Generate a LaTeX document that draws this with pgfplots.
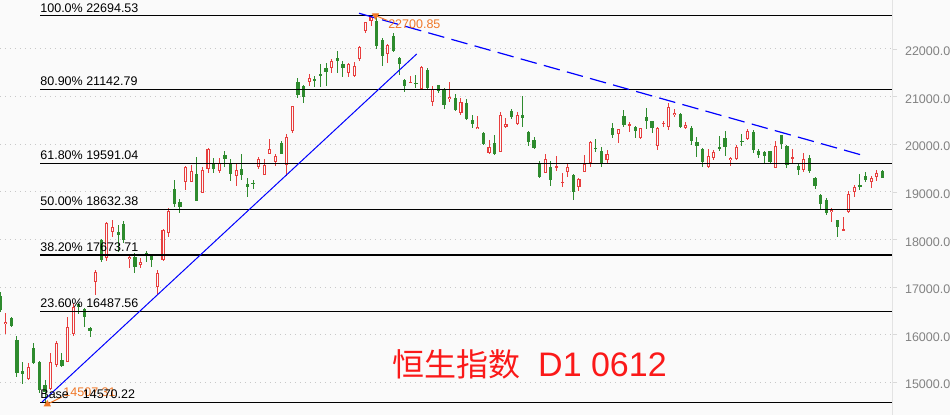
\documentclass[border=0pt]{standalone}
\usepackage{fontspec}
\setmainfont{Liberation Sans}
\newfontfamily\cjk{Noto Sans CJK SC}
\usepackage{pgfplots}
\usepackage{pgfplotstable}
\pgfplotsset{compat=1.18}

\definecolor{bgcol}{RGB}{250,250,250}
\definecolor{upcol}{RGB}{232,62,62}
\definecolor{dncol}{RGB}{46,139,46}
\definecolor{gridcol}{RGB}{200,200,200}
\definecolor{tickcol}{RGB}{130,130,130}
\definecolor{notecol}{RGB}{240,120,40}
\definecolor{titlecol}{RGB}{250,25,25}
\newcommand\lbl{\fontsize{6.25}{7}\selectfont}

% daily candles, x = bar index; rising bars (red, hollow)
\pgfplotstableread{
x o h l c
1 16224 16455 16014 16272
5 15069 15405 15048 15321
9 14853 15621 14838 15432
10 15363 15867 15321 15825
12 15432 16371 15426 16161
13 16014 16665 15972 16587
17 17112 17358 16833 17322
19 17610 18372 17547 18345
20 18162 18408 18051 18261
23 17589 17673 17400 17631
25 17463 17610 17400 17532
28 16995 17358 16833 17301
29 17568 18213 17547 18198
30 18129 18660 18057 18603
33 19212 19542 19038 19527
34 19206 19563 19206 19437
36 18969 19521 18969 19458
37 19473 19920 19401 19899
39 19443 19710 19395 19599
42 19338 19611 19128 19458
46 19527 19725 19479 19683
47 19353 19683 19353 19563
48 19788 20109 19788 19899
49 19632 19794 19542 19752
51 19563 20214 19332 20145
52 20283 20802 20241 20802
55 21300 21474 21222 21384
59 21594 21783 21489 21747
62 21501 21711 21417 21678
63 21432 21732 21405 21642
64 21783 22068 21753 22047
65 22383 22572 22329 22560
66 22593 22701 22482 22677
69 21894 22098 21711 22083
73 21279 21432 21279 21312
75 21153 21642 21138 21627
77 20892 21228 20802 21153
80 20943 21312 20892 20985
82 20661 20964 20613 20880
85 20325 20592 20325 20367
87 19809 20088 19794 19947
89 19842 20682 19830 20613
90 20367 20544 20334 20418
92 20424 20682 20403 20613
97 19401 19794 19389 19689
99 19515 19752 19443 19542
100 19191 19401 19107 19212
101 19422 19599 19317 19515
103 19107 19296 19017 19269
104 19422 19773 19410 19578
105 19611 20060 19527 20046
108 19668 19878 19599 19794
110 20208 20320 20031 20313
112 20382 20472 20262 20418
114 20136 20346 20109 20334
117 19968 20355 19878 20346
118 20418 20493 20355 20451
119 20367 20871 20298 20787
120 20613 20739 20565 20661
122 20346 20460 20313 20403
126 19515 19893 19505 19752
127 19716 19878 19668 19830
130 19668 19737 19542 19716
131 19683 19983 19668 19935
133 20103 20313 20088 20283
138 19506 20067 19495 19962
141 19689 19893 19611 19725
143 19458 19809 19422 19683
148 18570 18666 18372 18618
150 18183 18465 18175 18219
151 18570 19017 18560 18948
152 19002 19143 18897 19095
155 19212 19332 19086 19284
156 19317 19458 19233 19401
}\upbars

% falling bars (green, filled)
\pgfplotstableread{
x o h l c
0 16812 16896 16476 16518
2 16350 16371 16161 16182
3 15888 15972 15111 15195
4 15237 15426 14964 15174
6 15720 15825 15384 15405
7 15426 15447 14775 14838
8 14943 15048 14507 14796
11 15468 15621 15321 15342
14 16644 16665 16434 16581
15 16539 16560 16161 16371
16 16140 16161 15951 16077
18 17988 18009 17532 17568
21 18156 18303 17742 18093
22 18324 18393 17925 17988
24 17637 17715 17301 17427
26 17715 17757 17532 17652
27 17673 17694 17427 17568
31 19059 19248 18687 18744
32 18792 18849 18555 18687
35 19374 19725 18813 18813
38 19599 19710 19389 19473
40 19773 19857 19527 19683
41 19599 19683 19233 19374
43 19479 19794 19248 19353
44 19164 19284 18897 19107
45 19185 19248 19059 19164
50 20019 20073 19788 19788
53 21306 21384 20964 21033
54 21222 21243 20871 20997
56 21369 21432 21195 21342
57 21474 21678 21195 21432
58 21594 21699 21222 21522
60 21804 21957 21501 21747
61 21678 21747 21417 21594
67 22593 22677 21993 22068
68 22188 22224 21648 21852
70 22278 22329 21942 21963
71 21816 21837 21453 21684
72 21348 21363 21102 21222
74 21285 21453 21174 21264
76 21558 21594 21138 21186
78 21243 21243 21075 21123
79 21138 21174 20733 20823
81 20964 21054 20703 20718
83 20859 20949 20508 20523
84 20508 20613 20346 20424
86 20241 20250 19990 20004
88 20019 20193 19780 19794
91 20697 20733 20523 20577
93 20613 21012 20367 20544
94 20250 20277 19968 20052
95 20088 20157 19893 19914
96 19578 19653 19284 19305
98 19515 19647 19122 19248
102 19353 19374 18828 19002
106 19920 20103 19842 19899
107 19857 19935 19515 19584
109 20346 20451 20124 20193
111 20592 20718 20367 20403
113 20361 20382 20136 20283
115 20577 20766 20313 20493
116 20487 20495 20229 20334
121 20634 20645 20334 20367
123 20346 20382 19983 20073
124 20052 20157 19737 19962
125 19893 19926 19527 19632
128 19935 20172 19863 19893
129 20124 20277 19752 19947
132 20067 20214 19968 20046
134 20250 20298 19821 19878
135 19857 19893 19704 19773
136 19842 19857 19578 19752
137 19857 19863 19599 19620
139 20193 20200 19899 19998
140 19962 19983 19500 19563
142 19542 19599 19353 19458
144 19704 19773 19389 19443
145 19284 19317 19053 19122
146 18933 18945 18618 18744
147 18828 18864 18513 18561
149 18408 18415 18057 18255
153 19132 19374 19038 19111
154 19332 19422 19212 19248
157 19437 19458 19284 19296
}\downbars

\begin{document}
\begin{tikzpicture}
\path[use as bounding box, fill=bgcol] (0,0) rectangle (475pt,207.5pt);
\begin{axis}[
  at={(0,0)}, anchor=south west, scale only axis,
  width=446pt, height=207.5pt,
  xmin=-0.02, xmax=158.7, ymin=14313, ymax=23028,
  axis x line=none, axis y line*=right,
  y axis line style={draw=gray!22},
  ytick={15000,16000,...,22000}, scaled y ticks=false,
  ymajorgrids, grid style={gridcol, line width=0.5pt, dash pattern=on 0.6pt off 1.9pt},
  ytick pos=right, ytick align=outside, major tick length=2.5pt,
  ytick style={draw=gray!30},
  yticklabel style={font=\lbl, text=tickcol, anchor=west, xshift=0.5pt, yshift=-1.2pt},
  /pgf/number format/fixed, /pgf/number format/fixed zerofill,
  /pgf/number format/precision=1, /pgf/number format/1000 sep={},
  /pgf/number format/assume math mode=true,
  candle/.style={draw=none, mark=none, forget plot,
    error bars/y dir=both, error bars/y explicit, error bars/error mark=none},
  clip=true]

% wicks
\addplot[candle, error bars/error bar style={draw=upcol, line width=0.5pt}]
  table[x=x, y expr={(\thisrow{h}+\thisrow{l})/2}, y error expr={(\thisrow{h}-\thisrow{l})/2}] {\upbars};
\addplot[candle, error bars/error bar style={draw=dncol, line width=0.5pt}]
  table[x=x, y expr={(\thisrow{h}+\thisrow{l})/2}, y error expr={(\thisrow{h}-\thisrow{l})/2}] {\downbars};

% red hollow bodies: outline, then background inside
\addplot[candle, error bars/error bar style={draw=upcol, line width=1.6pt}]
  table[x=x, y expr={(\thisrow{o}+\thisrow{c})/2}, y error expr={max(abs(\thisrow{c}-\thisrow{o})/2,11)}] {\upbars};
\addplot[candle, error bars/error bar style={draw=bgcol, line width=0.5pt}]
  table[x=x, y expr={(\thisrow{o}+\thisrow{c})/2}, y error expr={max(abs(\thisrow{c}-\thisrow{o})/2-20,0)}] {\upbars};

% green filled bodies (at least one pixel high for dojis)
\addplot[candle, error bars/error bar style={draw=dncol, line width=1.6pt}]
  table[x=x, y expr={(\thisrow{o}+\thisrow{c})/2}, y error expr={max(abs(\thisrow{c}-\thisrow{o})/2,11)}] {\downbars};

% Fibonacci levels
\addplot[black, line width=0.55pt, forget plot] coordinates {(7.1,22694.53) (158.7,22694.53)};
\addplot[black, line width=0.55pt, forget plot] coordinates {(7.1,21142.79) (158.7,21142.79)};
\addplot[black, line width=0.55pt, forget plot] coordinates {(7.1,19591.04) (158.7,19591.04)};
\addplot[black, line width=0.55pt, forget plot] coordinates {(7.1,18632.38) (158.7,18632.38)};
\addplot[black, line width=0.55pt, forget plot] coordinates {(7.1,17673.71) (158.7,17673.71)};
\addplot[black, line width=0.55pt, forget plot] coordinates {(7.1,16487.56) (158.7,16487.56)};
\addplot[black, line width=0.55pt, forget plot] coordinates {(7.1,14570.22) (158.7,14570.22)};

% trend lines
\addplot[blue, line width=0.5pt, forget plot] coordinates {(7.46,14586) (74.13,21894)};
\addplot[blue, line width=0.6pt, dash pattern=on 8.3pt off 3.7pt, forget plot]
  coordinates {(63.86,22749) (153.9,19752)};

% high / low markers
\addplot[notecol, line width=0.5pt, mark=triangle*, mark indices={1}, mark size=1.6pt,
  mark options={rotate=180}, forget plot] coordinates {(66.8,22701) (68.9,22598)};
\addplot[notecol, line width=0.5pt, mark=triangle*, mark indices={1}, mark size=1.6pt,
  forget plot] coordinates {(8.4,14540) (11.0,14691)};

\node[anchor=base west, inner sep=0pt, yshift=1.9pt, font=\lbl] at (axis cs:7.1,22694.53) {100.0\% 22694.53};
\node[anchor=base west, inner sep=0pt, yshift=1.9pt, font=\lbl] at (axis cs:7.1,21142.79) {80.90\% 21142.79};
\node[anchor=base west, inner sep=0pt, yshift=1.9pt, font=\lbl] at (axis cs:7.1,19591.04) {61.80\% 19591.04};
\node[anchor=base west, inner sep=0pt, yshift=1.9pt, font=\lbl] at (axis cs:7.1,18632.38) {50.00\% 18632.38};
\node[anchor=base west, inner sep=0pt, yshift=1.9pt, font=\lbl] at (axis cs:7.1,17673.71) {38.20\% 17673.71};
\node[anchor=base west, inner sep=0pt, yshift=1.9pt, font=\lbl] at (axis cs:7.1,16487.56) {23.60\% 16487.56};
\node[anchor=base west, inner sep=0pt, text=notecol, font=\lbl] at (axis cs:11.2,14691) {14507.31};
\node[anchor=base west, inner sep=0pt, yshift=1.9pt, font=\lbl] at (axis cs:7.1,14570.22) {Base\hspace{7pt}14570.22};
\node[anchor=base west, inner sep=0pt, text=notecol, font=\lbl] at (axis cs:69.0,22419) {22700.85};

\node[anchor=base west, inner sep=0pt, text=titlecol]
  at (axis cs:69.7,15111) {{\cjk\fontsize{16}{18}\selectfont 恒生指数}\hspace{9pt}{\fontsize{17}{19}\selectfont D1 0612}};
\end{axis}
\end{tikzpicture}
\end{document}
